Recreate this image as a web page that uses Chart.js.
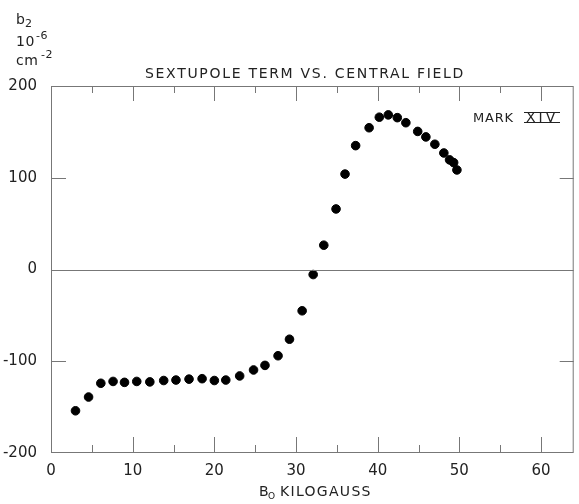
<!DOCTYPE html>
<html>
<head>
<meta charset="utf-8">
<script src="https://cdn.jsdelivr.net/npm/chart.js@4.4.0/dist/chart.umd.min.js"></script>
<style>
  body { margin: 0; background: #fff; }
  #wrap { width: 579px; height: 504px; }
</style>
</head>
<body>
<div id="wrap"><canvas id="grafico"></canvas></div>
<script>
/*==========================================================

DATOS

==========================================================*/

// campo central B0 (kilogauss)
const campoB0 = [
  3.0, 4.6, 6.1, 7.6, 9.0, 10.5, 12.1, 13.8, 15.3, 16.9, 18.5, 20.0, 21.4,
  23.1, 24.8, 26.2, 27.8, 29.2, 30.75, 32.1, 33.4, 34.9, 36.0, 37.3, 38.95,
  40.2, 41.3, 42.4, 43.45, 44.9, 45.9, 47.0, 48.1, 48.8, 49.3, 49.7,
];
// termino sextupolar b2 (10^-6 cm^-2)
const sextupolo = [
  -154, -139, -124, -122, -123, -122, -122.5, -121, -120.5, -119.5, -119, -121,
  -120.5, -116, -109.5, -104.5, -94, -76, -45, -5.5, 26.5, 66, 104, 135, 154.5,
  166, 168.5, 165.5, 160, 150.5, 144.5, 136.5, 127, 119.5, 116.5, 108.5,
];
const ticksX = [0, 10, 20, 30, 40, 50, 60];
const ticksMenoresX = [5, 15, 25, 35, 45, 55];
const ticksY = [-200, -100, 0, 100, 200];

const tinta = "#222";
const linea = "#777";
const fuente = "'DejaVu Sans', sans-serif";

/*==========================================================

MARCO, TICKS Y TEXTOS

==========================================================*/

const pluginMarco = {
  id: "marco",
  afterDraw(chart) {
    const ctx = chart.ctx;
    const a = chart.chartArea;
    const sx = chart.scales.x;
    const sy = chart.scales.y;
    ctx.save();
    ctx.strokeStyle = linea;
    ctx.lineWidth = 1;
    ctx.strokeRect(a.left + 0.5, a.top + 0.5, a.right - a.left - 1, a.bottom - a.top - 1);

    // ticks hacia dentro, arriba y abajo
    ctx.beginPath();
    ticksX.concat(ticksMenoresX).forEach((v) => {
      if (v === 0) return;
      const px = Math.round(sx.getPixelForValue(v)) + 0.5;
      const largo = v % 10 === 0 ? 16 : 8;
      ctx.moveTo(px, a.bottom);
      ctx.lineTo(px, a.bottom - largo);
      ctx.moveTo(px, a.top);
      ctx.lineTo(px, a.top + largo - 1);
    });
    [-100, 100].forEach((v) => {
      const py = Math.round(sy.getPixelForValue(v)) + 0.5;
      ctx.moveTo(a.left, py);
      ctx.lineTo(a.left + 15, py);
      ctx.moveTo(a.right, py);
      ctx.lineTo(a.right - 14, py);
    });
    // linea del cero
    const p0 = Math.round(sy.getPixelForValue(0)) + 0.5;
    ctx.moveTo(a.left, p0);
    ctx.lineTo(a.right, p0);
    ctx.stroke();

    ctx.fillStyle = tinta;
    ctx.textBaseline = "alphabetic";

    // titulo
    ctx.font = "14px " + fuente;
    ctx.letterSpacing = "1.7px";
    ctx.textAlign = "center";
    ctx.fillText("SEXTUPOLE TERM VS. CENTRAL FIELD", 305, 78);

    // etiqueta MARK XIV
    ctx.textAlign = "left";
    ctx.font = "13px " + fuente;
    ctx.letterSpacing = "0.8px";
    ctx.fillText("MARK", 473, 122);
    ctx.font = "14px " + fuente;
    ctx.letterSpacing = "3px";
    ctx.fillText("XIV", 526, 122);
    ctx.beginPath();
    ctx.moveTo(524, 112.5);
    ctx.lineTo(560, 112.5);
    ctx.moveTo(524, 122.5);
    ctx.lineTo(560, 122.5);
    ctx.strokeStyle = tinta;
    ctx.stroke();

    // titulo eje x: B0 KILOGAUSS
    ctx.font = "14px " + fuente;
    ctx.letterSpacing = "0px";
    ctx.fillText("B", 259, 496);
    ctx.font = "9px " + fuente;
    ctx.fillText("O", 268, 499);
    ctx.font = "14px " + fuente;
    ctx.letterSpacing = "1.3px";
    ctx.fillText("KILOGAUSS", 280, 496);

    // titulo eje y: b2 10^-6 cm^-2
    ctx.letterSpacing = "0px";
    ctx.font = "14px " + fuente;
    ctx.fillText("b", 16, 24);
    ctx.font = "11px " + fuente;
    ctx.fillText("2", 25, 27);
    ctx.font = "14px " + fuente;
    ctx.letterSpacing = "0.5px";
    ctx.fillText("10", 16, 46);
    ctx.font = "11px " + fuente;
    ctx.fillText("-6", 36, 39);
    ctx.font = "14px " + fuente;
    ctx.fillText("cm", 16, 65);
    ctx.font = "11px " + fuente;
    ctx.fillText("-2", 41, 58);
    ctx.restore();
  },
};

/*==========================================================

GRAFICO

==========================================================*/

function mostrarGrafico() {
  const puntos = campoB0.map((x, i) => ({ x: x, y: sextupolo[i] }));
  const ctx = document.getElementById("grafico").getContext("2d");
  new Chart(ctx, {
    type: "scatter",
    data: {
      datasets: [
        {
          data: puntos,
          backgroundColor: "#000",
          borderColor: "#000",
          pointRadius: 4.3,
          pointHoverRadius: 4.3,
        },
      ],
    },
    options: {
      responsive: true,
      maintainAspectRatio: false,
      animation: false,
      events: [],
      layout: { padding: { top: 86, right: 3, left: 0, bottom: 0 } },
      plugins: { legend: { display: false }, tooltip: { enabled: false } },
      scales: {
        x: {
          type: "linear",
          min: 0,
          max: 64,
          afterFit: (s) => { s.height = 51; },
          grid: { display: false },
          border: { display: false },
          ticks: {
            stepSize: 10,
            includeBounds: false,
            maxRotation: 0,
            padding: 1,
            color: tinta,
            font: { family: fuente, size: 15 },
            callback: (v) => (ticksX.includes(v) ? String(v) : ""),
          },
        },
        y: {
          type: "linear",
          min: -200,
          max: 200,
          afterFit: (s) => { s.width = 51; },
          grid: { display: false },
          border: { display: false },
          ticks: {
            stepSize: 100,
            padding: 6,
            color: tinta,
            font: { family: fuente, size: 15 },
            callback: (v) => (ticksY.includes(v) ? String(v) : ""),
          },
        },
      },
    },
    plugins: [pluginMarco],
  });
}

mostrarGrafico();
</script>
</body>
</html>
